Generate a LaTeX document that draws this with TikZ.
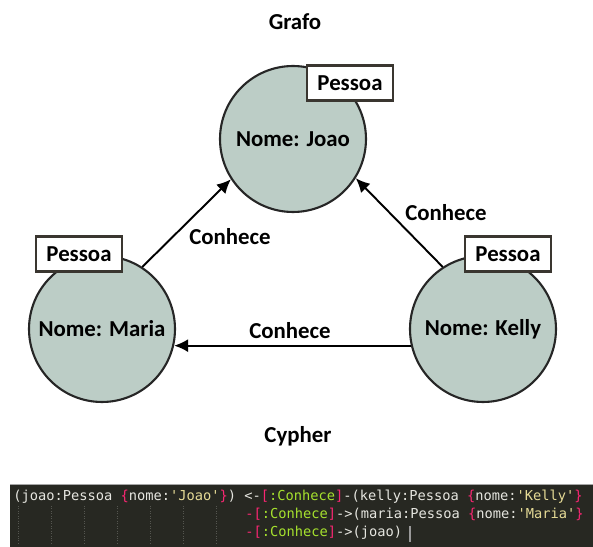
\documentclass[tikz,border=0pt]{standalone}
\usepackage{fontspec}
\setmainfont{Carlito}
\setmonofont{DejaVu Sans Mono}
\usetikzlibrary{arrows.meta}
\tikzset{
  pessoa/.style={circle, draw=black!85, line width=1.2pt, fill=nodefill,
    minimum size=2.92cm, inner sep=0pt, font=\bfseries\fontsize{13pt}{15pt}\selectfont},
  rotulo/.style={rectangle, draw=boxline, line width=1.6pt, fill=white,
    minimum width=1.72cm, minimum height=0.7cm, inner sep=0pt,
    font=\bfseries\fontsize{13pt}{15pt}\selectfont},
  rel/.style={line width=1.1pt, -{Latex[length=8pt,width=7.5pt]}},
  txt/.style={font=\bfseries\fontsize{13pt}{15pt}\selectfont, inner sep=0pt},
  codigo/.style={anchor=base west, inner sep=0pt, text=codefg,
    font=\ttfamily\fontsize{7.8pt}{9pt}\selectfont},
  guia/.style={draw=codeguide, line width=0.4pt, densely dotted}
}
\newcommand\cbr[1]{\textcolor{codered}{#1}}
\newcommand\crel[1]{\textcolor{codegreen}{#1}}
\newcommand\cstr[1]{\textcolor{codestr}{#1}}
\begin{document}
\begin{tikzpicture}[x=0.02cm,y=-0.02cm]
\definecolor{nodefill}{RGB}{188,205,198}
\definecolor{boxline}{RGB}{58,54,48}
\definecolor{codebg}{RGB}{39,40,34}
\definecolor{codefg}{RGB}{230,230,224}
\definecolor{codered}{RGB}{249,38,114}
\definecolor{codegreen}{RGB}{166,226,46}
\definecolor{codestr}{RGB}{230,219,150}
\definecolor{codeguide}{RGB}{85,86,80}
\useasboundingbox (0,0) rectangle (593,547);

% titulos
\node[txt] (grafo) at (295,22) {Grafo};
\node[txt] (cypher) at (298,436) {Cypher};

% nos do grafo
\node[pessoa] (joao) at (293,139) {Nome: Joao};
\node[pessoa] (maria) at (102,329) {Nome: Maria};
\node[pessoa] (kelly) at (483,329) {Nome: Kelly};
\node[rotulo] (ljoao) at (350,83) {Pessoa};
\node[rotulo] (lmaria) at (79,254) {Pessoa};
\node[rotulo] (lkelly) at (508,254) {Pessoa};

% relacoes
\draw[rel] (maria.57) -- (joao.213);
\draw[rel] (kelly.123) -- (joao.328);
\draw[rel] (kelly.193) -- (maria.-13);
\node[txt] (cmj) at (230,237) {Conhece};
\node[txt] (ckj) at (446,213) {Conhece};
\node[txt] (ckm) at (290,331) {Conhece};

% bloco de codigo
\fill[codebg] (10,484) rectangle (593,547);
\draw[gray!70, line width=1pt] (10,484.5) -- (593,484.5);
\foreach \k in {0,...,6}
  \draw[guia] (18+33*\k,506) -- (18+33*\k,543);
\node[codigo] (linha1) at (13,501) {(joao:Pessoa \cbr{\{}nome:\cstr{'Joao'}\cbr{\}}) <-\cbr{[}\crel{:Conhece}\cbr{]}-(kelly:Pessoa \cbr{\{}nome:\cstr{'Kelly'}\cbr{\}}};
\node[codigo] (linha2) at (245,519) {\cbr{-[}\crel{:Conhece}\cbr{]}->(maria:Pessoa \cbr{\{}nome:\cstr{'Maria'}\cbr{\}}};
\node[codigo] (linha3) at (245,537) {\cbr{-[}\crel{:Conhece}\cbr{]}->(joao)};
\draw[gray!80, line width=0.6pt] (410,526) -- (410,542);
\end{tikzpicture}
\end{document}
